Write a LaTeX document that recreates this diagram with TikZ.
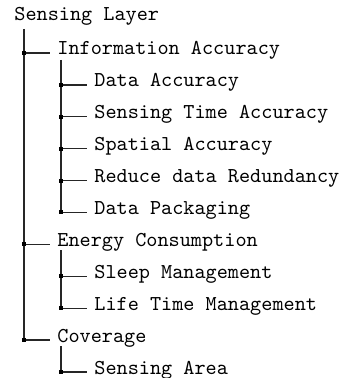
\documentclass[tikz,border=0pt]{standalone}
\usepackage{fontspec}
\begin{document}
\begin{tikzpicture}[x=0.4717pt,y=-0.4717pt,
  item/.style={anchor=base west,inner xsep=3.3pt,inner ysep=0pt,font=\ttfamily},
  link/.style={line width=0.6pt,draw=black!85},
  dot/.style={fill=black}]
\useasboundingbox (0,0) rectangle (342,378);
\def\jy#1{53+31.9*#1}
% root
\node[item] (root) at (7,21) {Sensing Layer};
% level 1
\node[item] (ia) at (50,{\jy{0}+2}) {Information Accuracy};
\node[item] (ec) at (50,{\jy{6}+2}) {Energy Consumption};
\node[item] (cv) at (50,{\jy{9}+2}) {Coverage};
% level 2
\node[item] (da) at (87,{\jy{1}+2}) {Data Accuracy};
\node[item] (st) at (87,{\jy{2}+2}) {Sensing Time Accuracy};
\node[item] (sa) at (87,{\jy{3}+2}) {Spatial Accuracy};
\node[item] (rd) at (87,{\jy{4}+2}) {Reduce data Redundancy};
\node[item] (dp) at (87,{\jy{5}+2}) {Data Packaging};
\node[item] (sm) at (87,{\jy{7}+2}) {Sleep Management};
\node[item] (lt) at (87,{\jy{8}+2}) {Life Time Management};
\node[item] (ar) at (87,{\jy{10}+2}) {Sensing Area};
% junctions
\coordinate (r0) at (24,29);
\coordinate (jia) at (24,{\jy{0}});
\coordinate (jec) at (24,{\jy{6}});
\coordinate (jcv) at (24,{\jy{9}});
\coordinate (ia0) at (61,60);
\coordinate (jda) at (61,{\jy{1}});
\coordinate (jst) at (61,{\jy{2}});
\coordinate (jsa) at (61,{\jy{3}});
\coordinate (jrd) at (61,{\jy{4}});
\coordinate (jdp) at (61,{\jy{5}});
\coordinate (ec0) at (61,{\jy{6}+6});
\coordinate (jsm) at (61,{\jy{7}});
\coordinate (jlt) at (61,{\jy{8}});
\coordinate (cv0) at (61,{\jy{9}+6});
\coordinate (jar) at (61,{\jy{10}});
% vertical trunks
\draw[link] (r0) -- (jcv);
\draw[link] (ia0) -- (jdp);
\draw[link] (ec0) -- (jlt);
\draw[link] (cv0) -- (jar);
% branches
\foreach \j/\n in {jia/ia,jec/ec,jcv/cv,jda/da,jst/st,jsa/sa,jrd/rd,jdp/dp,jsm/sm,jlt/lt,jar/ar}{
  \draw[link] (\j) -- (\j -| \n.west);
  \fill[dot] ([shift={(-2,-2)}]\j) rectangle ([shift={(2,2)}]\j);
}
\end{tikzpicture}
\end{document}
